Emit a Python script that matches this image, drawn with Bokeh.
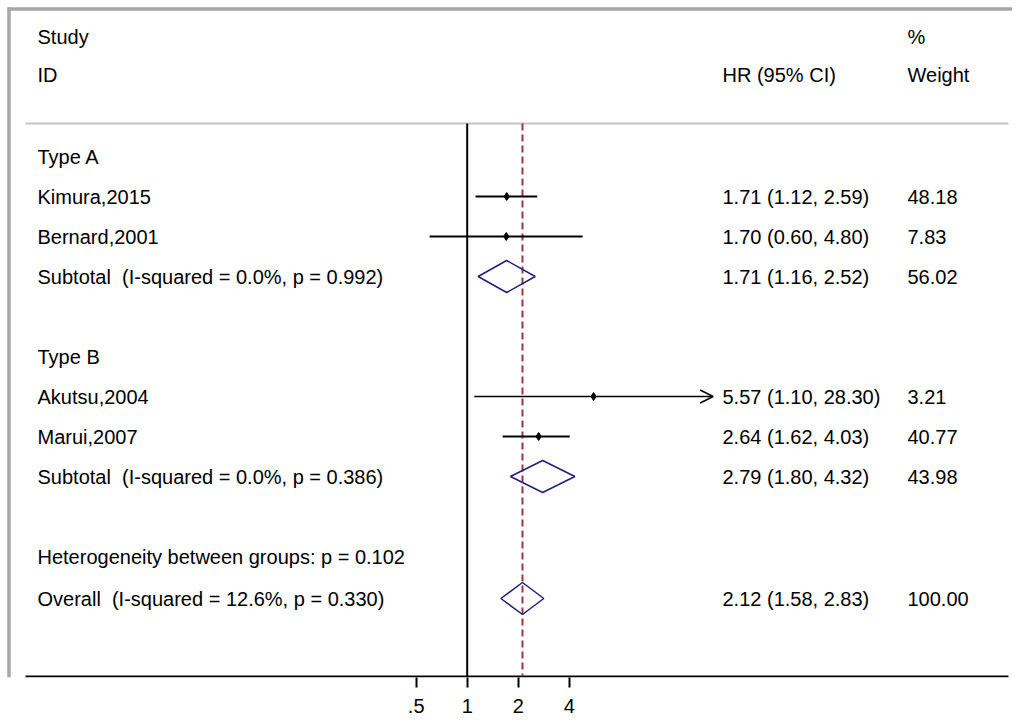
from bokeh.plotting import figure
from bokeh.models import Range1d, FixedTicker, Arrow, OpenHead
from bokeh.core.properties import value
from bokeh.embed import file_html
from bokeh.resources import INLINE

# ---------------- data ----------------
group_names = ["Type A", "Type B"]
study_ids = ["Kimura,2015", "Bernard,2001", "Akutsu,2004", "Marui,2007"]
study_group = [0, 0, 1, 1]
study_hr = [1.71, 1.70, 5.57, 2.64]
study_lo = [1.12, 0.60, 1.10, 1.62]
study_hi = [2.59, 4.80, 28.30, 4.03]
study_weight = [48.18, 7.83, 3.21, 40.77]

sub_hr = [1.71, 2.79]
sub_lo = [1.16, 1.80]
sub_hi = [2.52, 4.32]
sub_weight = [56.02, 43.98]
sub_i2 = [0.0, 0.0]
sub_p = [0.992, 0.386]

het_between_p = 0.102
overall_hr = 2.12
overall_lo = 1.58
overall_hi = 2.83
overall_weight = 100.00
overall_i2 = 12.6
overall_p = 0.330

x_ticks = [0.5, 1, 2, 4]
x_tick_labels = [".5", "1", "2", "4"]

# ---------------- layout (pixels / styles) ----------------
W, H = 1012, 724
FRAME_H = 677
X1_PX = 466.7          # canvas px of HR = 1
PX_PER_DOUBLING = 51.0
ROW0_PX = 36.0
ROW_PX = 40.0
LEFT_TXT = 37
HR_TXT = 722
WT_TXT = 907
RULE_L, RULE_R = 25, 1008
BORDER_PX = 8.5
ARROW_ABOVE = 16.0
FONT = value("Liberation Sans")
FS = "20px"
DIAMOND_H = 0.4
NAVY = "#1f1f7c"
RED = "#9e3444"
GREY_BORDER = "#a6a6a6"
GREY_RULE = "#c4c4c4"


def px_to_x(px):
    return 2 ** ((px - X1_PX) / PX_PER_DOUBLING)


def px_to_row(py):
    return (py - ROW0_PX) / ROW_PX


x_start, x_end = px_to_x(0), px_to_x(W)
y_top = px_to_row(0)
y_bottom = px_to_row(FRAME_H)
header_line_y = px_to_row(123)
axis_line_y = px_to_row(676)

# row assignment
study_rows = []
sub_rows = []
group_rows = []
r = 3
for g, name in enumerate(group_names):
    group_rows.append(r)
    r += 1
    for i, gi in enumerate(study_group):
        if gi == g:
            study_rows.append(r)
            r += 1
    sub_rows.append(r)
    r += 2
het_row = r
overall_row = r + 1.05

p = figure(width=W, height=H, x_axis_type="log",
           x_range=Range1d(x_start, x_end), y_range=Range1d(y_bottom, y_top),
           output_backend="svg", toolbar_location=None, y_axis_location=None,
           min_border_left=0, min_border_right=0, min_border_top=0,
           min_border_bottom=H - FRAME_H)
p.outline_line_color = None
p.xgrid.visible = False
p.ygrid.visible = False
p.background_fill_color = "white"
p.border_fill_color = "white"

ax = p.xaxis[0]
ax.ticker = FixedTicker(ticks=x_ticks)
ax.major_label_overrides = dict(zip(x_ticks, x_tick_labels))
ax.axis_line_color = None
ax.major_tick_in = 0
ax.major_tick_out = 10
ax.major_tick_line_width = 2
ax.major_tick_line_color = "black"
ax.minor_tick_line_color = None
ax.major_label_text_font = "Liberation Sans"
ax.major_label_text_font_size = FS
ax.major_label_text_color = "black"
ax.major_label_standoff = 11

# frame decorations
p.segment(x0=[px_to_x(7)], y0=[px_to_row(BORDER_PX)], x1=[x_end], y1=[px_to_row(BORDER_PX)],
          line_color=GREY_BORDER, line_width=3.5)
p.segment(x0=[px_to_x(BORDER_PX)], y0=[px_to_row(7)], x1=[px_to_x(BORDER_PX)], y1=[y_bottom],
          line_color=GREY_BORDER, line_width=3.5)
p.segment(x0=[px_to_x(RULE_L)], y0=[header_line_y], x1=[px_to_x(RULE_R)], y1=[header_line_y],
          line_color=GREY_RULE, line_width=2)
p.segment(x0=[px_to_x(RULE_L)], y0=[axis_line_y], x1=[px_to_x(RULE_R)], y1=[axis_line_y],
          line_color="black", line_width=2)

# null line and overall line
p.segment(x0=[1], y0=[header_line_y], x1=[1], y1=[axis_line_y], line_color="black", line_width=2)
p.segment(x0=[overall_hr], y0=[header_line_y], x1=[overall_hr], y1=[axis_line_y],
          line_color=RED, line_width=2, line_dash="7 4")

# study CIs
for lo, hi, y in zip(study_lo, study_hi, study_rows):
    if hi > ARROW_ABOVE:
        p.add_layout(Arrow(x_start=lo, y_start=y, x_end=hi, y_end=y, line_width=1.4, line_color="black",
                           end=OpenHead(size=13, line_width=1.4, line_color="black")))
    else:
        p.segment(x0=[lo], y0=[y], x1=[hi], y1=[y], line_color="black", line_width=1.8)
p.scatter(x=study_hr, y=study_rows, marker="diamond", size=8, color="black")

# diamonds
dx = [[lo, est, hi, est] for lo, est, hi in zip(sub_lo + [overall_lo], sub_hr + [overall_hr], sub_hi + [overall_hi])]
dy = [[y, y - DIAMOND_H, y, y + DIAMOND_H] for y in sub_rows + [overall_row]]
p.patches(xs=dx, ys=dy, fill_color=None, line_color=NAVY, line_width=1.5)

# texts
left_txt, left_y = [], []
left_txt += ["Study", "ID"]
left_y += [0, 0.95]
left_txt += group_names
left_y += group_rows
left_txt += study_ids
left_y += study_rows
left_txt += ["Subtotal \u00a0(I-squared = %.1f%%, p = %.3f)" % (i2, pv) for i2, pv in zip(sub_i2, sub_p)]
left_y += sub_rows
left_txt += ["Heterogeneity between groups: p = %.3f" % het_between_p,
             "Overall \u00a0(I-squared = %.1f%%, p = %.3f)" % (overall_i2, overall_p)]
left_y += [het_row, overall_row]

hr_txt = ["HR (95% CI)"] + ["%.2f (%.2f, %.2f)" % t for t in zip(study_hr, study_lo, study_hi)] \
         + ["%.2f (%.2f, %.2f)" % t for t in zip(sub_hr, sub_lo, sub_hi)] \
         + ["%.2f (%.2f, %.2f)" % (overall_hr, overall_lo, overall_hi)]
hr_y = [0.95] + study_rows + sub_rows + [overall_row]

wt_txt = ["%", "Weight"] + ["%.2f" % w for w in study_weight] + ["%.2f" % w for w in sub_weight] \
         + ["%.2f" % overall_weight]
wt_y = [0, 0.95] + study_rows + sub_rows + [overall_row]

for txts, ys, off in ((left_txt, left_y, LEFT_TXT), (hr_txt, hr_y, HR_TXT), (wt_txt, wt_y, WT_TXT)):
    p.text(x=[x_start] * len(txts), y=ys, text=txts, x_offset=off, text_font=FONT,
           text_font_size=FS, text_color="black", text_baseline="middle", text_align="left")

open("out.html", "w").write(file_html(p, INLINE))
